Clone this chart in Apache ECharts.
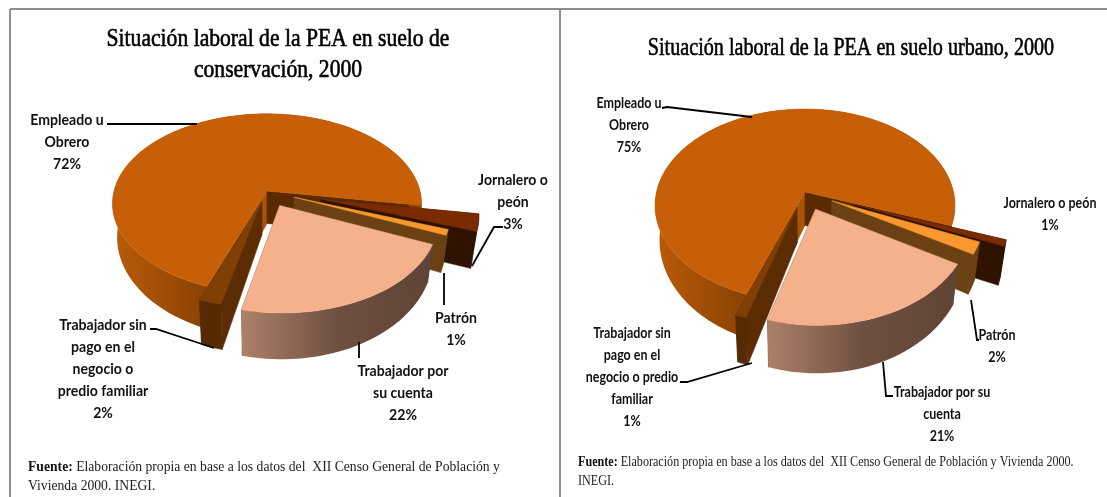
<!DOCTYPE html>
<html><head><meta charset="utf-8">
<style>html,body{margin:0;padding:0;background:#fff}#c{width:1107px;height:497px}</style>
<script src="https://cdn.jsdelivr.net/npm/echarts@6/dist/echarts.min.js"></script>
</head><body><div id="c"></div>
<script>
// ---- data (clockwise, starting with the largest slice)
const categoriesLeft = ['Empleado u\nObrero','Jornalero o\npeón','Patrón','Trabajador por\nsu cuenta','Trabajador sin\npago en el\nnegocio o\npredio familiar'];
const categoriesRight = ['Empleado u\nObrero','Jornalero o peón','Patrón','Trabajador por su\ncuenta','Trabajador sin\npago en el\nnegocio o predio\nfamiliar'];
const valuesLeft = [72,3,1,22,2];
const valuesRight = [75,1,2,21,1];
const titleLeft = 'Situación laboral de la PEA en suelo de\nconservación, 2000';
const titleRight = 'Situación laboral de la PEA en suelo urbano, 2000';

// ---- layout and style
const sliceStyles = [
 {top:'#C65F08',a:'#A85406',b:'#5A2B00',outer:[[0,'#BA5B08'],[0.3,'#8A4304'],[1,'#8A4304']]},
 {top:'#7A2C00',a:'#2F1200',b:'#2F1200',outer:'#2F1200'},
 {top:'#F8982F',a:'#6B4114',b:'#6B4114',outer:'#6B4114'},
 {top:'#F5B08C',a:'#5F4537',b:'#5F4537',outer:[[0,'#AE8069'],[0.5,'#6F5040'],[1,'#5E4436']]},
 {top:'#7F3F05',a:'#5C2D02',b:'#5C2D02',outer:'#562A02'}
];
const paintRank = [0,1,2,4,3];
const pieLeft = {cx:267,cy:191,R:153,R2:88,p:0.14,D:32.5,s:0.97,start:200,labelScale:0.97,explode:[0,0.36,0.19,0.18,0.12],
  labels:[[67,142],[513,202],[456,329],[403,393],[103,369]]};
const pieRight = {cx:805,cy:192,R:148.5,R2:94.6,p:0.14,D:33.5,s:0.97,start:200,labelScale:0.86,explode:[0,0.35,0.2,0.19,0.17],
  labels:[[629,125],[1050,214],[997,346],[942,414],[632,377]]};
const leaders = [
 [[107,124],[197,124]],[[503,227],[494,227],[472,266]],[[444,273],[444,305]],[[359,342],[359,358]],[[150,329],[156,329],[214,348]],
 [[662,108],[667,107],[752,117]],[[971,300],[977,340],[979,340]],[[883,362],[886,396],[893,396]],[[680,382],[687,382],[752,363]]
];
const LABEL_FONT = 'bold 14.5px Lato';

function makeRender(cfg, values, names){
  const total = values.reduce((a,b)=>a+b,0);
  const proj = (u,v)=>{const k=1/(1-cfg.p*v);return {x:cfg.cx+cfg.R*u*k,y:cfg.cy+cfg.R2*v*k,k};};
  const bottom = q=>[cfg.cx+(q.x-cfg.cx)*cfg.s, q.y+cfg.D*q.k*q.k];
  return function(params, api){
    const i = params.dataIndex, st = sliceStyles[i];
    let before = 0; for(let j=0;j<i;j++) before += values[j];
    const a0 = cfg.start + before/total*360, a1 = a0 + api.value(0)/total*360;
    const mid = (a0+a1)/2*Math.PI/180, e = cfg.explode[i];
    const ou = Math.sin(mid)*e, ov = -Math.cos(mid)*e;
    const apex = proj(ou,ov), arc = [];
    const n = Math.max(2,Math.ceil((a1-a0)/2));
    for(let t=0;t<=n;t++){
      const a=(a0+(a1-a0)*t/n)*Math.PI/180;
      arc.push(proj(ou+Math.sin(a),ov-Math.cos(a)));
    }
    const z = paintRank[i]*10;
    const poly = (pts,fill,dz)=>({type:'polygon',shape:{points:pts},style:{fill,stroke:typeof fill==='string'?fill:null,lineWidth:typeof fill==='string'?0.5:0},z2:z+dz});
    const wall = (q1,q2)=>[[q1.x,q1.y],[q2.x,q2.y],bottom(q2),bottom(q1)];
    const xs = arc.map(q=>q.x), xa=Math.min(...xs), xb=Math.max(...xs);
    const outerFill = typeof st.outer==='string'?st.outer:
      {type:'linear',x:xa,y:0,x2:xb,y2:0,global:true,colorStops:st.outer.map(s=>({offset:s[0],color:s[1]}))};
    const outerPts = arc.map(q=>[q.x,q.y]).concat(arc.slice().reverse().map(bottom));
    const [lx,ly] = cfg.labels[i];
    return {type:'group',children:[
      poly(wall(apex,arc[0]),st.a,0),
      poly(wall(apex,arc[n]),st.b,1),
      poly(outerPts,outerFill,2),
      poly([[apex.x,apex.y]].concat(arc.map(q=>[q.x,q.y])),st.top,3),
      {type:'text',z2:200,x:lx,y:ly,scaleX:cfg.labelScale,style:{text:names[i]+'\n'+api.value(0)+'%',x:0,y:0,textAlign:'center',textVerticalAlign:'middle',font:LABEL_FONT,fill:'#111',lineHeight:22}}
    ]};
  };
}
function pieSeries(name,cfg,values,names){
  return {type:'custom',name,coordinateSystem:'none',animation:false,silent:true,
    renderItem:makeRender(cfg,values,names),data:values.map((v,i)=>({name:names[i],value:[v]}))};
}
const border='#8E8E8E';
const line=(x1,y1,x2,y2)=>({type:'line',shape:{x1,y1,x2,y2},style:{stroke:border,lineWidth:2},silent:true});
const titleText=(cx,y,text,sx)=>({type:'text',x:cx,y,scaleX:sx,silent:true,style:{text,textAlign:'center',font:'25px "Liberation Serif"',lineHeight:31,fill:'#000',stroke:'#000',lineWidth:0.6}});
const fuente=(x,y,text,sx)=>({type:'text',x,y,scaleX:sx,silent:true,style:{
  text:'{b|Fuente:} '+text,lineHeight:19,
  rich:{b:{font:'bold 14px "Liberation Serif"',fill:'#111'}},font:'14px "Liberation Serif"',fill:'#222'}});
const chart=echarts.init(document.getElementById('c'),null,{renderer:'canvas'});
chart.setOption({
  animation:false,backgroundColor:'#fff',
  graphic:{elements:[
    line(10,9,1107,9),line(10,9,10,497),line(560,9,560,497),
    titleText(278,24,titleLeft,0.865),titleText(851,33,titleRight,0.805),
    ...leaders.map(pts=>({type:'polyline',shape:{points:pts},z:10,silent:true,style:{stroke:'#000',lineWidth:1.8,fill:null}})),
    fuente(28,458,'Elaboración propia en base a los datos del  XII Censo General de Población y\nVivienda 2000. INEGI.',0.975),
    fuente(578,453,'Elaboración propia en base a los datos del  XII Censo General de Población y Vivienda 2000.\nINEGI.',0.865)
  ]},
  series:[pieSeries('Suelo de conservación',pieLeft,valuesLeft,categoriesLeft),pieSeries('Suelo urbano',pieRight,valuesRight,categoriesRight)]
});
</script></body></html>
